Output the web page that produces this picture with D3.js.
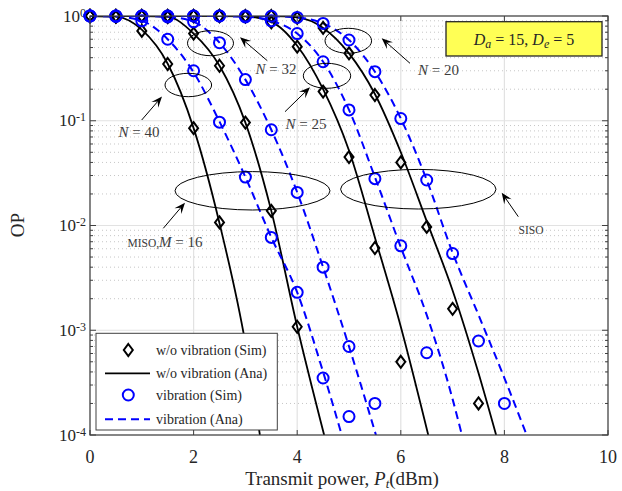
<!DOCTYPE html>
<html>
  <head>
    <title>OP vs transmit power</title>
    <script src="https://d3js.org/d3.v7.min.js"></script>
    <style>
      body { margin: 0; background: #fff; }
      text { font-family: "Liberation Serif", "Times New Roman", serif; }
    </style>
  </head>
  <body>
    <svg width="622" height="491"></svg>
    <script>
      // simulated points, one every 0.5 dBm
      const simX = [0,0.5,1,1.5,2,2.5,3,3.5,4,4.5,5,5.5,6,6.5,7,7.5,8];
      const simA = [1,0.98,0.72,0.348,0.085,0.0107];                                        // N=40 w/o
      const simB = [1,0.99,0.9,0.6,0.3,0.097,0.029,0.0077,0.0023,0.00035,0.00015];          // N=40 vib
      const simC = [1,1,0.995,0.975,0.68,0.335,0.096,0.0138,0.00108];                        // N=32 w/o
      const simD = [1,1,0.995,0.98,0.88,0.556,0.247,0.082,0.0207,0.004,0.0007,0.0002];       // N=32 vib
      const simE = [1,1,1,1,1,1,0.985,0.87,0.51,0.19,0.045,0.0061,0.0005];                   // N=25 w/o
      const simF = [1,1,1,1,1,1,0.98,0.9,0.68,0.366,0.127,0.028,0.0064,0.00061];             // N=25 vib
      const simG = [1,1,1,1,1,1,1,1,0.96,0.77,0.44,0.176,0.04,0.0097,0.0016,0.0002];         // N=20 w/o
      const simH = [1,1,1,1,1,1,1,0.995,0.97,0.85,0.59,0.294,0.105,0.0272,0.0054,0.00079,0.0002]; // N=20 vib

      // analytical curves [Pt, OP]
      const anaA = [[0,1],[0.5,0.985],[1,0.74],[1.5,0.35],[2,0.085],[2.5,0.0105],[3,0.00075],[3.28,0.0001]];
      const anaB = [[0,1],[0.5,0.99],[1,0.9],[1.5,0.6],[2,0.29],[2.5,0.098],[3,0.029],[3.5,0.0077],[4,0.0023],[4.5,0.0004],[4.86,0.0001]];
      const anaC = [[0,1],[1,0.998],[1.5,0.98],[2,0.68],[2.5,0.335],[3,0.096],[3.5,0.0138],[4,0.00108],[4.52,0.0001]];
      const anaD = [[0,1],[1,0.998],[1.5,0.985],[2,0.88],[2.5,0.556],[3,0.247],[3.5,0.082],[4,0.0207],[4.5,0.004],[5,0.0007],[5.52,0.0001]];
      const anaE = [[0,1],[2.5,1],[3,0.99],[3.5,0.88],[4,0.52],[4.5,0.2],[5,0.052],[5.5,0.0077],[6,0.00108],[6.53,0.0001]];
      const anaF = [[0,1],[2.5,1],[3,0.985],[3.5,0.9],[4,0.68],[4.5,0.366],[5,0.127],[5.5,0.029],[6,0.0062],[6.5,0.0014],[7,0.00022],[7.18,0.0001]];
      const anaG = [[0,1],[3.5,1],[4,0.97],[4.5,0.77],[5,0.44],[5.5,0.18],[6,0.05],[6.5,0.011],[7,0.0024],[7.5,0.00039],[7.84,0.0001]];
      const anaH = [[0,1],[3.5,0.995],[4,0.97],[4.5,0.85],[5,0.59],[5.5,0.294],[6,0.105],[6.5,0.0272],[7,0.0055],[7.5,0.0014],[8,0.00035],[8.43,0.0001]];

      const xTicks = [0,2,4,6,8,10];
      const yTicks = [1,0.1,0.01,0.001,0.0001];
      const yExp = ["0","-1","-2","-3","-4"];
      const legendLabels = ["w/o vibration (Sim)","w/o vibration (Ana)","vibration (Sim)","vibration (Ana)"];

      const margin = {top: 16, right: 14, bottom: 56, left: 90};
      const svg = d3.select("svg");
      const width = +svg.attr("width");
      const height = +svg.attr("height");
      const innerWidth = width - margin.left - margin.right;
      const innerHeight = height - margin.top - margin.bottom;

      const xScale = d3.scaleLinear().domain([0,10]).range([0, innerWidth]);
      const yScale = d3.scaleLog().domain([1e-4,1]).range([innerHeight, 0]);

      const g = svg.append("g").attr("transform", `translate(${margin.left},${margin.top})`);

      g.append("clipPath").attr("id","clip")
        .append("rect").attr("width", innerWidth).attr("height", innerHeight);

      // minor grid (dotted)
      const minor = [];
      for (let e = -4; e < 0; e++) for (let m = 2; m <= 9; m++) minor.push(m * Math.pow(10, e));
      g.selectAll(".minor").data(minor).enter().append("line")
        .attr("x1", 0).attr("x2", innerWidth)
        .attr("y1", d => yScale(d)).attr("y2", d => yScale(d))
        .attr("stroke", "#b8b8b8").attr("stroke-width", 0.8).attr("stroke-dasharray", "1,3");

      // major grid
      g.selectAll(".gx").data(xTicks).enter().append("line")
        .attr("x1", d => xScale(d)).attr("x2", d => xScale(d))
        .attr("y1", 0).attr("y2", innerHeight)
        .attr("stroke", "#e2e2e2").attr("stroke-width", 1.2);
      g.selectAll(".gy").data(yTicks).enter().append("line")
        .attr("x1", 0).attr("x2", innerWidth)
        .attr("y1", d => yScale(d)).attr("y2", d => yScale(d))
        .attr("stroke", "#e2e2e2").attr("stroke-width", 1.2);

      // ticks inside on all four sides
      const axisCol = "#404040";
      const tk = g.append("g").attr("stroke", axisCol).attr("stroke-width", 1);
      xTicks.forEach(t => {
        tk.append("line").attr("x1", xScale(t)).attr("x2", xScale(t)).attr("y1", innerHeight).attr("y2", innerHeight - 5);
        tk.append("line").attr("x1", xScale(t)).attr("x2", xScale(t)).attr("y1", 0).attr("y2", 5);
      });
      yTicks.forEach(t => {
        tk.append("line").attr("x1", 0).attr("x2", 6).attr("y1", yScale(t)).attr("y2", yScale(t));
        tk.append("line").attr("x1", innerWidth).attr("x2", innerWidth - 6).attr("y1", yScale(t)).attr("y2", yScale(t));
      });
      minor.forEach(t => {
        tk.append("line").attr("x1", 0).attr("x2", 3).attr("y1", yScale(t)).attr("y2", yScale(t));
        tk.append("line").attr("x1", innerWidth).attr("x2", innerWidth - 3).attr("y1", yScale(t)).attr("y2", yScale(t));
      });

      // tick labels
      g.selectAll(".xl").data(xTicks).enter().append("text")
        .attr("x", d => xScale(d)).attr("y", innerHeight + 28)
        .attr("text-anchor", "middle").attr("font-size", 18).attr("fill", "#262626")
        .text(d => d);
      yTicks.forEach((t, i) => {
        const tx = g.append("text").attr("x", -4).attr("y", yScale(t) + 5.5)
          .attr("text-anchor", "end").attr("font-size", 17).attr("fill", "#262626");
        tx.append("tspan").text("10");
        tx.append("tspan").attr("font-size", 12).attr("dy", -5).text(yExp[i]);
      });

      // axis labels
      const xl = svg.append("text").attr("x", 342).attr("y", 484.5)
        .attr("text-anchor", "middle").attr("font-size", 19).attr("fill", "#262626");
      xl.append("tspan").text("Transmit power, ");
      xl.append("tspan").attr("font-style", "italic").text("P");
      xl.append("tspan").attr("font-style", "italic").attr("font-size", 13).attr("dy", 3.5).text("t");
      xl.append("tspan").attr("dy", -3.5).text("(dBm)");
      svg.append("text").attr("transform", "translate(24,225) rotate(-90)")
        .attr("text-anchor", "middle").attr("font-size", 19).attr("fill", "#262626").text("OP");

      // curves
      const line = d3.line()
        .x(d => xScale(d[0])).y(d => yScale(d[1]))
        .curve(d3.curveMonotoneX);
      const blue = "#0000ff";
      const lines = g.append("g").attr("clip-path", "url(#clip)");
      [anaA, anaC, anaE, anaG].forEach(c => {
        lines.append("path").datum(c).attr("d", line)
          .attr("fill", "none").attr("stroke", "#000").attr("stroke-width", 1.8);
      });
      [anaB, anaD, anaF, anaH].forEach(c => {
        lines.append("path").datum(c).attr("d", line)
          .attr("fill", "none").attr("stroke", blue).attr("stroke-width", 2)
          .attr("stroke-dasharray", "8,5");
      });

      const diamond = "M0,-6L4.5,0L0,6L-4.5,0Z";
      const pts = arr => arr.map((v, i) => [simX[i], v]);
      [simA, simC, simE, simG].forEach(s => {
        g.append("g").selectAll("path").data(pts(s)).enter().append("path")
          .attr("d", diamond)
          .attr("transform", d => `translate(${xScale(d[0])},${yScale(d[1])})`)
          .attr("fill", "none").attr("stroke", "#000").attr("stroke-width", 2);
      });
      [simB, simD, simF, simH].forEach(s => {
        g.append("g").selectAll("circle").data(pts(s)).enter().append("circle")
          .attr("cx", d => xScale(d[0])).attr("cy", d => yScale(d[1])).attr("r", 5.5)
          .attr("fill", "none").attr("stroke", blue).attr("stroke-width", 2);
      });

      // frame
      g.append("rect").attr("width", innerWidth).attr("height", innerHeight)
        .attr("fill", "none").attr("stroke", axisCol).attr("stroke-width", 1.2);

      // annotations (page coordinates)
      const ann = svg.append("g");
      const ellipses = [
        [188.3, 85, 23.3, 11.7], [210.5, 43.2, 23, 12.5], [327, 75.8, 23.7, 12.5],
        [348.3, 40.8, 23.3, 12.5], [252.5, 190.8, 77.5, 19.2], [418.3, 189.2, 77.7, 19.8]
      ];
      ellipses.forEach(e => {
        ann.append("ellipse").attr("cx", e[0]).attr("cy", e[1]).attr("rx", e[2]).attr("ry", e[3])
          .attr("fill", "none").attr("stroke", "#000").attr("stroke-width", 1);
      });
      const arrows = [
        [141.7, 120, 162, 96.5], [267.3, 60.7, 240, 37.3], [285, 111.7, 310, 87.3],
        [410, 63.3, 381.7, 38.3], [163.3, 228.3, 185, 202.7], [518.3, 216.7, 501.7, 192.7]
      ];
      arrows.forEach(a => {
        const ang = Math.atan2(a[3] - a[1], a[2] - a[0]);
        const L = 11, W = 4.5;
        const bx = a[2] - L * Math.cos(ang), by = a[3] - L * Math.sin(ang);
        const ix = a[2] - 0.6 * L * Math.cos(ang), iy = a[3] - 0.6 * L * Math.sin(ang);
        const px = -Math.sin(ang) * W, py = Math.cos(ang) * W;
        ann.append("line").attr("x1", a[0]).attr("y1", a[1]).attr("x2", ix).attr("y2", iy)
          .attr("stroke", "#000").attr("stroke-width", 1);
        ann.append("path")
          .attr("d", `M${a[2]},${a[3]}L${bx + px},${by + py}L${ix},${iy}L${bx - px},${by - py}Z`)
          .attr("fill", "#000");
      });
      const labelCol = "#3c3c3c";
      const nLabels = [["40", 139, 136.5], ["32", 276, 73.5], ["25", 306, 128.5], ["20", 438.5, 75]];
      nLabels.forEach(l => {
        const t = ann.append("text").attr("x", l[1]).attr("y", l[2]).attr("text-anchor", "middle")
          .attr("font-size", 15).attr("fill", labelCol);
        t.append("tspan").attr("font-style", "italic").text("N");
        t.append("tspan").text(" = " + l[0]);
      });
      const miso = ann.append("text").attr("x", 165).attr("y", 246.5).attr("text-anchor", "middle")
        .attr("font-size", 15).attr("fill", labelCol);
      miso.append("tspan").attr("font-size", 11.5).text("MISO,");
      miso.append("tspan").attr("font-style", "italic").text("M");
      miso.append("tspan").text(" = 16");
      ann.append("text").attr("x", 531).attr("y", 233.5).attr("text-anchor", "middle")
        .attr("font-size", 11.5).attr("fill", labelCol).text("SISO");

      // parameter box
      ann.append("rect").attr("x", 446).attr("y", 21.7).attr("width", 156).attr("height", 34.3)
        .attr("fill", "#ffff55").attr("stroke", "#262626").attr("stroke-width", 1.3);
      const pt = ann.append("text").attr("x", 524).attr("y", 44.5).attr("text-anchor", "middle")
        .attr("font-size", 16).attr("fill", "#262626");
      pt.append("tspan").attr("font-style", "italic").text("D");
      pt.append("tspan").attr("font-style", "italic").attr("font-size", 12).attr("dy", 3).text("a");
      pt.append("tspan").attr("dy", -3).text(" = 15, ");
      pt.append("tspan").attr("font-style", "italic").text("D");
      pt.append("tspan").attr("font-style", "italic").attr("font-size", 12).attr("dy", 3).text("e");
      pt.append("tspan").attr("dy", -3).text(" = 5");

      // legend
      const lg = svg.append("g");
      lg.append("rect").attr("x", 96).attr("y", 333.3).attr("width", 181.3).attr("height", 96.7)
        .attr("fill", "#fff").attr("stroke", axisCol).attr("stroke-width", 1);
      const rowY = [350, 373.3, 395, 419.3];
      lg.append("path").attr("d", diamond).attr("transform", `translate(128.3,${rowY[0]})`)
        .attr("fill", "none").attr("stroke", "#000").attr("stroke-width", 2);
      lg.append("line").attr("x1", 105).attr("x2", 150).attr("y1", rowY[1]).attr("y2", rowY[1])
        .attr("stroke", "#000").attr("stroke-width", 1.8);
      lg.append("circle").attr("cx", 128.3).attr("cy", rowY[2]).attr("r", 5.5)
        .attr("fill", "none").attr("stroke", blue).attr("stroke-width", 2);
      lg.append("line").attr("x1", 105).attr("x2", 150).attr("y1", rowY[3]).attr("y2", rowY[3])
        .attr("stroke", blue).attr("stroke-width", 2).attr("stroke-dasharray", "8,5");
      legendLabels.forEach((t, i) => {
        lg.append("text").attr("x", 156).attr("y", rowY[i] + 4.5)
          .attr("font-size", 14).attr("fill", "#262626").text(t);
      });
    </script>
  </body>
</html>
